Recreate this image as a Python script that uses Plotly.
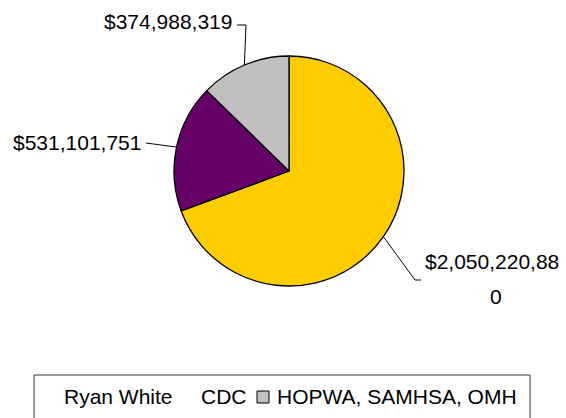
import math
import plotly.graph_objects as go

# ---- data ----
categories = ["Ryan White", "CDC", "HOPWA, SAMHSA, OMH"]
values = [2050220880, 531101751, 374988319]
colors = ["#FFCC00", "#660066", "#C0C0C0"]

W, H = 566, 418
CX, CY, R = 289, 171, 115  # pie placement in pixels


def px(x):
    return x / W


def py(y):
    return 1 - y / H


fig = go.Figure()
fig.add_trace(go.Pie(
    labels=categories, values=values, sort=False, direction="clockwise",
    rotation=0, marker=dict(colors=colors, line=dict(color="black", width=1.3)),
    textinfo="none", hoverinfo="label+value", showlegend=False,
    domain=dict(x=[px(CX - R), px(CX + R)], y=[py(CY + R), py(CY - R)]),
))

# edge points at mid angles, derived from data
total = sum(values)
edge = []
cum = 0
for v in values:
    mid = (cum + v / 2) / total * 2 * math.pi
    cum += v
    edge.append((CX + R * math.sin(mid), CY - R * math.cos(mid)))

labels_txt = [f"${v:,}" for v in values]
font = dict(family="Liberation Sans, Arial, sans-serif", size=21, color="black")
shapes = []
annotations = []

# Ryan White label (wrapped)
s = labels_txt[0]
annotations.append(dict(x=px(423), y=py(261), xref="paper", yref="paper", text=s[:13],
                        showarrow=False, xanchor="left", yanchor="middle", font=font))
annotations.append(dict(x=px(496), y=py(296), xref="paper", yref="paper", text=s[13:],
                        showarrow=False, xanchor="center", yanchor="middle", font=font))
ex, ey = edge[0]
shapes.append(dict(type="path", xref="paper", yref="paper",
                   path=f"M {px(ex)} {py(ey)} L {px(415)} {py(280)} L {px(421)} {py(280)}",
                   line=dict(color="black", width=1)))

# CDC label
annotations.append(dict(x=px(143), y=py(142), xref="paper", yref="paper", text=labels_txt[1],
                        showarrow=False, xanchor="right", yanchor="middle", font=font))
ex, ey = edge[1]
shapes.append(dict(type="path", xref="paper", yref="paper",
                   path=f"M {px(146)} {py(143)} L {px(ex)} {py(ey)}",
                   line=dict(color="black", width=1)))

# HOPWA label
annotations.append(dict(x=px(234), y=py(22), xref="paper", yref="paper", text=labels_txt[2],
                        showarrow=False, xanchor="right", yanchor="middle", font=font))
ex, ey = edge[2]
shapes.append(dict(type="path", xref="paper", yref="paper",
                   path=f"M {px(237)} {py(25)} L {px(246)} {py(25)} L {px(ex)} {py(ey)}",
                   line=dict(color="black", width=1)))

# custom legend box
shapes.append(dict(type="rect", xref="paper", yref="paper",
                   x0=px(34), x1=px(530), y0=py(375), y1=py(430),
                   line=dict(color="#333333", width=1), fillcolor="white", layer="below"))
leg_x = [62, 249, 275]
leg_anchor = ["left", "right", "left"]
for i, name in enumerate(categories):
    annotations.append(dict(x=px(leg_x[i]), y=py(396), xref="paper", yref="paper", text=name,
                            showarrow=False, xanchor=leg_anchor[i], yanchor="middle", font=font))
shapes.append(dict(type="rect", xref="paper", yref="paper",
                   x0=px(257), x1=px(269), y0=py(403), y1=py(391),
                   line=dict(color="black", width=1), fillcolor=colors[2]))

fig.update_layout(
    width=W, height=H, margin=dict(l=0, r=0, t=0, b=0),
    paper_bgcolor="white", plot_bgcolor="white",
    shapes=shapes, annotations=annotations,
)
fig.write_html("out.html", config={"displayModeBar": False},
               post_script="document.body.style.margin='0';document.body.style.overflow='hidden';")
